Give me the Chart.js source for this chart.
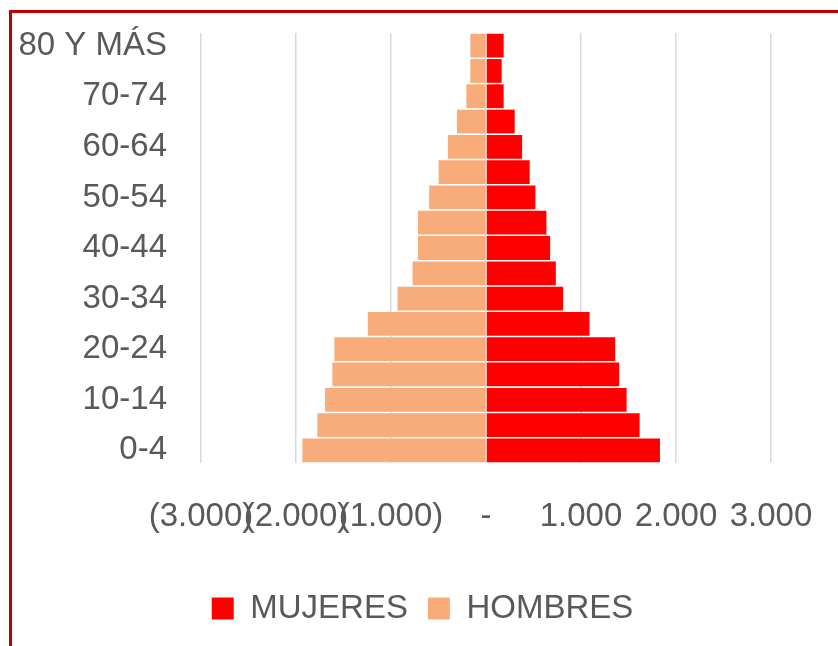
<!DOCTYPE html>
<html>
<head>
<meta charset="utf-8">
<script src="https://cdn.jsdelivr.net/npm/chart.js@4/dist/chart.umd.min.js"></script>
<style>
  html, body { margin: 0; padding: 0; background: #fff; overflow: hidden; }
  #wrap { position: relative; width: 838px; height: 646px; }
  #frame { position: absolute; left: 9px; top: 10px; right: -10px; bottom: -10px;
           border: 3px solid #C00000; pointer-events: none; }
</style>
</head>
<body>
<div id="wrap">
  <canvas id="c" width="838" height="646"></canvas>
  <div id="frame"></div>
</div>
<script>
const categories = ["0-4","5-9","10-14","15-19","20-24","25-29","30-34","35-39","40-44","45-49","50-54","55-59","60-64","65-69","70-74","75-79","80 Y MÁS"];
const mujeres = [1831, 1617, 1480, 1402, 1360, 1090, 812, 735, 675, 636, 520, 460, 380, 302, 186, 165, 186];
const hombres = [1933, 1775, 1694, 1617, 1596, 1244, 931, 773, 717, 717, 598, 499, 401, 306, 207, 165, 165];
const xTicks = [-3000, -2000, -1000, 0, 1000, 2000, 3000];

function fmt(v) {
  const a = Math.abs(v);
  if (a === 0) return '-';
  const s = a.toString().replace(/\B(?=(\d{3})+(?!\d))/g, '.');
  return v < 0 ? '(' + s + ')' : s;
}

const FONT = "'Liberation Sans', Arial, sans-serif";
const GRAY = '#595959';

const legendShift = {
  id: 'legendShift',
  afterLayout(chart) {
    if (chart.legend) { chart.legend.left = 7; chart.legend.right = 838; }
  }
};

new Chart(document.getElementById('c'), {
  type: 'bar',
  data: {
    labels: categories,
    datasets: [
      { label: 'MUJERES', data: mujeres, backgroundColor: '#FF0000', borderWidth: 0,
        barPercentage: 0.94, categoryPercentage: 1.0 },
      { label: 'HOMBRES', data: hombres.map(v => -v), backgroundColor: '#F8AC79', borderWidth: 0,
        barPercentage: 0.94, categoryPercentage: 1.0 }
    ]
  },
  plugins: [legendShift],
  options: {
    indexAxis: 'y',
    responsive: false,
    animation: false,
    layout: { padding: { left: 0, right: 67, top: 33, bottom: 11 } },
    plugins: {
      tooltip: { enabled: false },
      legend: {
        position: 'bottom',
        labels: {
          color: GRAY,
          font: { family: FONT, size: 33 },
          boxWidth: 22, boxHeight: 22, padding: 20
        }
      }
    },
    scales: {
      x: {
        stacked: true,
        min: -3000, max: 3000,
        afterBuildTicks: s => { s.ticks = xTicks.map(v => ({ value: v })); },
        afterFit: s => { s.height = 109; s.paddingLeft = 0; s.paddingRight = 0; },
        grid: { color: '#D9D9D9', lineWidth: 1.5, drawTicks: false },
        border: { display: false },
        ticks: {
          autoSkip: false, maxRotation: 0, minRotation: 0,
          padding: 34, color: GRAY,
          font: { family: FONT, size: 33 },
          callback: v => fmt(v)
        }
      },
      y: {
        stacked: true,
        reverse: true,
        afterFit: s => { s.width = 201; s.paddingTop = 0; s.paddingBottom = 0; },
        grid: { display: false, drawTicks: false },
        border: { display: false },
        ticks: {
          autoSkip: false, padding: 34, color: GRAY,
          font: { family: FONT, size: 33 },
          callback: (v, i) => (i % 2 === 0 ? categories[i] : '')
        }
      }
    }
  }
});
</script>
</body>
</html>
